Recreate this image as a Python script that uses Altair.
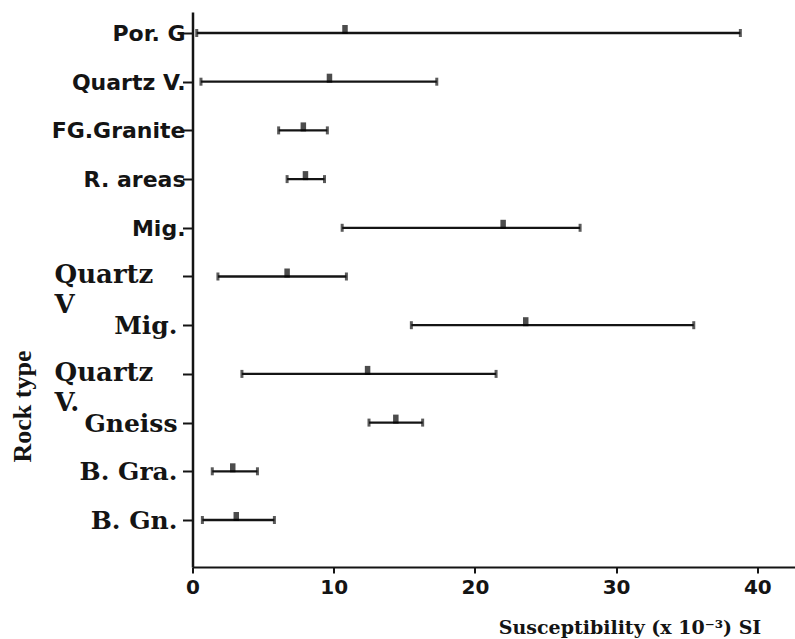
import altair as alt
import pandas as pd

rock_types = ["Por. G", "Quartz V.", "FG.Granite", "R. areas", "Mig.",
              "Quartz V", "Mig.", "Quartz V.", "Gneiss", "B. Gra.", "B. Gn."]
sus_min = [0.3, 0.6, 6.1, 6.7, 10.6, 1.8, 15.5, 3.5, 12.5, 1.4, 0.7]
sus_mean = [10.8, 9.7, 7.85, 8.0, 22.0, 6.7, 23.6, 12.4, 14.4, 2.85, 3.1]
sus_max = [38.8, 17.3, 9.55, 9.35, 27.45, 10.9, 35.5, 21.5, 16.3, 4.6, 5.8]
x_ticks = [0, 10, 20, 30, 40]

df = pd.DataFrame({
    "row": list(range(len(rock_types))),
    "label": rock_types,
    "min": sus_min,
    "mean": sus_mean,
    "max": sus_max,
})

INK = "#141414"
xscale = alt.Scale(domain=[0, 42.67], nice=False, zero=False)
yscale = alt.Scale(domain=[-0.431, 10.965], reverse=True, nice=False, zero=False)

x_axis = alt.Axis(
    title="Susceptibility (x 10⁻³) SI",
    values=x_ticks, format="d", grid=False,
    domainColor=INK, domainWidth=2, tickColor=INK, tickWidth=2, tickSize=6,
    labelFont="DejaVu Sans", labelFontWeight="bold", labelFontSize=20,
    labelColor=INK, labelPadding=4, labelFlush=False,
    titleFont="DejaVu Serif", titleFontWeight="bold", titleFontSize=19,
    titleColor=INK, titleX=437, titleY=66, titleBaseline="alphabetic",
    titleAlign="center",
)
y_axis = alt.Axis(
    title="Rock type", values=list(range(len(rock_types))), labels=False,
    grid=False, domainColor=INK, domainWidth=2.5, tickColor=INK,
    tickWidth=2, tickSize=10,
    titleFont="Liberation Serif", titleFontWeight="bold", titleFontSize=26,
    titleColor=INK, titleX=-170, titleY=394, titleAngle=-90,
    titleAlign="center", titleBaseline="middle",
)

y_enc = alt.Y("row:Q", scale=yscale, axis=y_axis)

base = alt.Chart(df)

bars = base.mark_rule(color=INK, strokeWidth=2.3).encode(
    x=alt.X("min:Q", scale=xscale, axis=x_axis),
    x2="max:Q",
    y=y_enc,
)
cap_lo = base.mark_tick(orient="vertical", color=INK, thickness=3, size=8).encode(
    x=alt.X("min:Q", scale=xscale, axis=x_axis), y=y_enc)
cap_hi = base.mark_tick(orient="vertical", color=INK, thickness=3, size=8).encode(
    x=alt.X("max:Q", scale=xscale, axis=x_axis), y=y_enc)
marker = base.mark_tick(orient="vertical", color="#000000", thickness=5.5, size=9,
                        yOffset=-3.5).encode(
    x=alt.X("mean:Q", scale=xscale, axis=x_axis), y=y_enc)

sans_labels = base.transform_filter("datum.row < 5").mark_text(
    font="DejaVu Sans", fontWeight="bold", fontSize=22, color=INK,
    align="right", baseline="middle", dy=1,
).encode(x=alt.value(-7), y=y_enc, text="label:N")

serif_single = base.transform_filter(
    "datum.row >= 5 && indexof(datum.label, 'Quartz') != 0"
).mark_text(
    font="DejaVu Serif", fontWeight="bold", fontSize=25, color=INK,
    align="right", baseline="middle", dy=1,
).encode(x=alt.value(-15), y=y_enc, text="label:N")

serif_multi = base.transform_filter(
    "datum.row >= 5 && indexof(datum.label, 'Quartz') == 0"
).transform_calculate(
    lines="split(datum.label, ' ')"
).mark_text(
    font="DejaVu Serif", fontWeight="bold", fontSize=26, color=INK,
    align="left", baseline="alphabetic", dy=7, lineHeight=30,
).encode(x=alt.value(-138), y=y_enc, text="lines:N")

chart = alt.layer(
    bars, cap_lo, cap_hi, marker, sans_labels, serif_single, serif_multi
).properties(
    width=602.5, height=555,
    autosize=alt.AutoSizeParams(type="none"),
    padding={"left": 192.5, "top": 12, "right": 0, "bottom": 72},
    background="white",
).configure_view(stroke=None)

chart.save("out.html", embed_options={"renderer": "svg", "actions": False})
